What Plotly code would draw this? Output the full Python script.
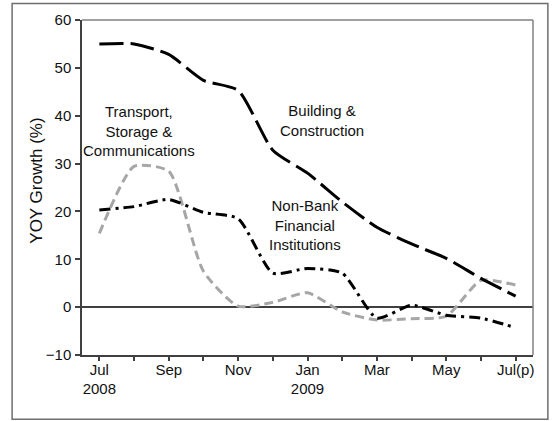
import plotly.graph_objects as go

# monthly YOY growth (%) by sector, Jul 2008 - Jul 2009
months = ['Jul 2008', 'Aug 2008', 'Sep 2008', 'Oct 2008', 'Nov 2008', 'Dec 2008',
          'Jan 2009', 'Feb 2009', 'Mar 2009', 'Apr 2009', 'May 2009', 'Jun 2009', 'Jul 2009']
tick_labels = ['Jul<br>2008', '', 'Sep', '', 'Nov', '', 'Jan<br>2009', '',
               'Mar', '', 'May', '', 'Jul(p)']

building = [55.0, 55.0, 52.8, 47.4, 45.3, 32.8, 28.0, 22.0, 16.7, 13.2, 10.2, 6.0, 2.3]
transport = [15.4, 29.4, 28.4, 7.5, 0.2, 1.0, 3.0, -1.0, -2.7, -2.4, -1.9, 5.6, 4.6]
non_bank = [20.3, 21.0, 22.5, 19.8, 18.5, 7.1, 8.1, 7.1, -2.3, 0.4, -1.7, -2.3, -4.3]

idx = list(range(len(months)))

fig = go.Figure()

fig.add_trace(go.Scatter(x=idx, y=transport, mode='lines', line_shape='spline',
                         line=dict(color='#a6a6a6', width=3, dash='9px,5px', smoothing=0.6)))
fig.add_trace(go.Scatter(x=idx, y=non_bank, mode='lines', line_shape='spline',
                         line=dict(color='#000000', width=3, dash='11px,5px,3px,5px', smoothing=0.6)))
fig.add_trace(go.Scatter(x=idx, y=building, mode='lines', line_shape='spline',
                         line=dict(color='#000000', width=3, dash='24px,7px', smoothing=0.6)))

font = dict(family='Arial', size=15, color='#111111')

# sector labels
fig.add_annotation(x=1.15, y=36.8, text='Transport,<br>Storage &<br>Communications',
                   showarrow=False, font=font)
fig.add_annotation(x=6.43, y=38.9, text='Building &<br>Construction',
                   showarrow=False, font=font)
fig.add_annotation(x=5.94, y=17.1, text='Non-Bank<br>Financial<br>Institutions',
                   showarrow=False, font=font)

# y axis title, placed by hand to sit where the original has it
fig.add_annotation(xref='paper', yref='paper', x=-0.1, y=0.52, textangle=-90,
                   xanchor='center', yanchor='middle',
                   text='YOY Growth (%)', showarrow=False,
                   font=dict(family='Arial', size=17, color='#111111'))

# outer chart border and grey top/right frame of plot area
fig.add_shape(type='rect', xref='paper', yref='paper',
              x0=-0.155, x1=1.033, y0=-0.192, y1=1.049,
              line=dict(color='#6e6e6e', width=1.5))
fig.add_shape(type='line', xref='paper', yref='paper', x0=0, x1=1, y0=1, y1=1,
              line=dict(color='#808080', width=1.5))
fig.add_shape(type='line', xref='paper', yref='paper', x0=1, x1=1, y0=0, y1=1,
              line=dict(color='#808080', width=1.5))

x_range = [-0.5, len(months) - 0.5]

fig.update_layout(
    width=553, height=421,
    margin=dict(l=82, r=20, t=20, b=66),
    paper_bgcolor='white', plot_bgcolor='white',
    showlegend=False,
    font=font,
    # labels sit close to the axis; tick marks come from an overlaid axis
    xaxis=dict(range=x_range, tickvals=idx, ticktext=tick_labels, ticks='',
               showline=True, linecolor='#404040', linewidth=1.5,
               showgrid=False, zeroline=False, tickfont=font),
    xaxis2=dict(range=x_range, overlaying='x', anchor='y', side='bottom',
                tickvals=idx, showticklabels=False,
                ticks='outside', ticklen=5, tickcolor='#404040', tickwidth=1.5,
                showline=False, showgrid=False, zeroline=False),
    yaxis=dict(range=[-10, 60], tickvals=[-10, 0, 10, 20, 30, 40, 50, 60],
               showline=True, linecolor='#404040', linewidth=1.5,
               ticks='outside', ticklen=5, tickcolor='#404040', tickwidth=1.5,
               ticklabelstandoff=1,
               showgrid=False, zeroline=True, zerolinecolor='#404040', zerolinewidth=1.5,
               tickfont=font),
)

# invisible trace so the overlaid tick axis is drawn
fig.add_trace(go.Scatter(x=idx, y=building, xaxis='x2', mode='lines',
                         line=dict(width=0), hoverinfo='skip'))

# drop the default page margin so the figure fills the window
fig.write_html("out.html", config={'displayModeBar': False},
               post_script="document.body.style.margin='0';")
